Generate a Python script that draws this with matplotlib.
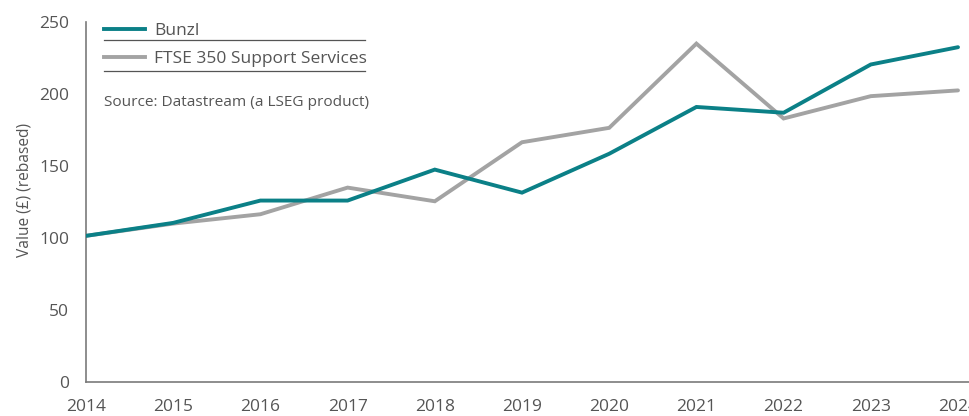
import matplotlib
matplotlib.use("Agg")
import matplotlib.pyplot as plt
from matplotlib.lines import Line2D

years = [2014, 2015, 2016, 2017, 2018, 2019, 2020, 2021, 2022, 2023, 2024]
bunzl = [101.5, 110.5, 126, 126, 147.5, 131.5, 158.5, 191, 187, 220.5, 232.5]
ftse = [101.5, 110, 116.5, 135, 125.5, 166.5, 176.5, 235, 183, 198.5, 202.5]
yticks = [0, 50, 100, 150, 200, 250]
series_labels = ["Bunzl", "FTSE 350 Support Services"]
source_text = "Source: Datastream (a LSEG product)"
ylabel_text = "Value (£) (rebased)"

TEAL = "#0b8087"
GREY = "#a3a3a3"
TXT = "#555555"
AX = "#7a7a7a"

plt.rcParams["font.family"] = ["Open Sans", "DejaVu Sans"]

fig = plt.figure(figsize=(9.7, 4.16), dpi=100)
ax = fig.add_axes([86/970, 1-382/416, 884/970, 360/416])

LW = 2.8
ax.plot(years, ftse, color=GREY, lw=LW, solid_joinstyle="miter",
        solid_capstyle="round", zorder=2)
ax.plot(years, bunzl, color=TEAL, lw=LW, solid_joinstyle="miter",
        solid_capstyle="round", zorder=3)

ax.set_xlim(2014, 2014 + 884/87.2)
ax.set_ylim(0, 250)
ax.set_yticks(yticks)
ax.set_xticks(years)
ax.set_xticklabels([str(y) for y in years])
ax.tick_params(axis="both", length=0, labelsize=12.5, colors=TXT)
ax.tick_params(axis="y", pad=12)
ax.tick_params(axis="x", pad=12)
for s in ["top", "right"]:
    ax.spines[s].set_visible(False)
for s in ["left", "bottom"]:
    ax.spines[s].set_color(AX)
    ax.spines[s].set_linewidth(1.2)

ax.set_ylabel(ylabel_text, fontsize=11.2, color=TXT)
ax.yaxis.set_label_coords(-0.061, 0.532)

handles = [Line2D([], [], color=TEAL, lw=LW), Line2D([], [], color=GREY, lw=LW)]
leg = ax.legend(handles, series_labels, loc="upper left",
                bbox_to_anchor=(0.020, 0.997), frameon=False, borderpad=0,
                borderaxespad=0, handlelength=2.4, handletextpad=0.5,
                labelspacing=0.665, fontsize=12.5)
for t in leg.get_texts():
    t.set_color(TXT)

for yf in [0.950, 0.864]:
    ax.add_line(Line2D([0.020, 0.316], [yf, yf], transform=ax.transAxes,
                       color=TXT, lw=0.9, clip_on=False))

ax.text(0.020, 0.776, source_text, transform=ax.transAxes, fontsize=11.1,
        color=TXT, va="center", ha="left")

fig.savefig("out.png", dpi=100)
